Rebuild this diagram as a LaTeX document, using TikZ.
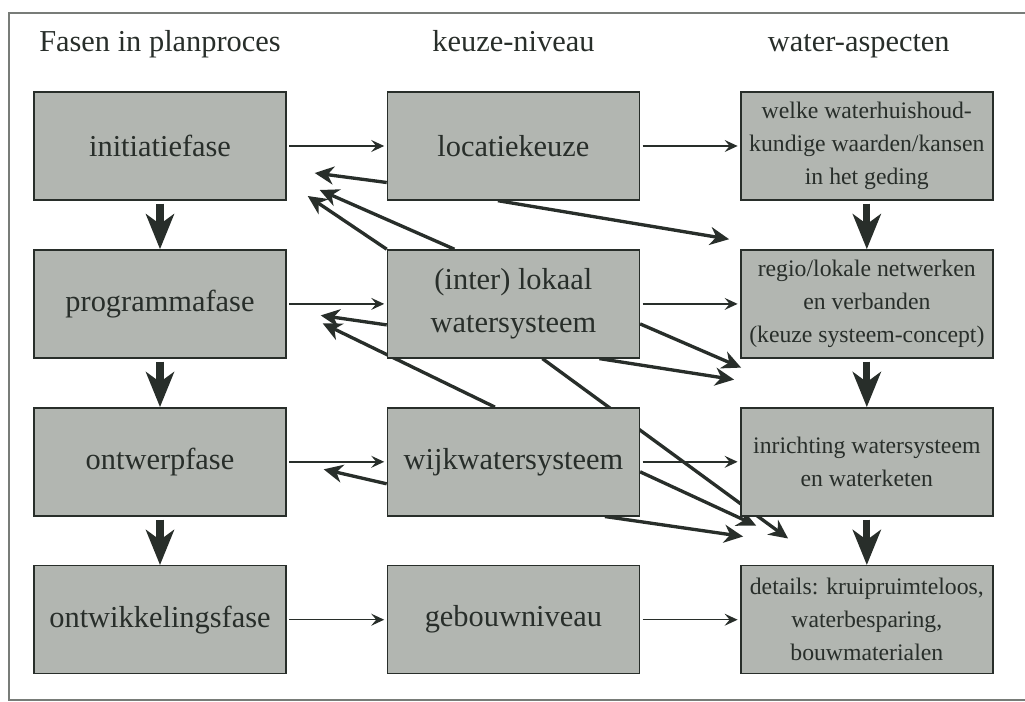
\documentclass[tikz,border=0pt]{standalone}
\usepackage{fontspec}
\setmainfont{Liberation Serif}
\usetikzlibrary{positioning, arrows.meta, calc, backgrounds}
\definecolor{boxgray}{RGB}{178,182,177}
\definecolor{inkdark}{RGB}{40,46,42}
\definecolor{framegray}{RGB}{120,124,120}

\begin{document}
\begin{tikzpicture}[
  node distance=0.97cm and 2.0cm,
  box/.style={draw=inkdark, line width=0.8pt, fill=boxgray, minimum width=5.04cm, minimum height=2.16cm,
              inner sep=0pt, align=center, text=inkdark, font=\fontsize{17.3}{24.5}\selectfont},
  aspectbox/.style={box, font=\fontsize{13.5}{18.8}\selectfont},
  header/.style={text=inkdark, font=\fontsize{17.3}{20}\selectfont},
  flow/.style={-{Stealth[length=0.26cm, width=0.24cm, inset=0.1cm]}, line width=0.8pt, inkdark,
               shorten <=0.05cm, shorten >=0.05cm},
  feedback/.style={-{Stealth[length=0.38cm, width=0.36cm, inset=0.12cm]}, line width=1.9pt, inkdark},
  bigdown/.style={-{Stealth[length=0.7cm, width=0.56cm, inset=0.2cm]}, line width=4pt, inkdark,
                  shorten <=0.06cm}
]
  \useasboundingbox (0,0) rectangle (20.5,-14.04);
  \draw[framegray, line width=0.8pt] (20.5,-0.26) -- (0.18,-0.26) -- (0.18,-14.0) -- (20.5,-14.0);

  \node[box] (init) at (3.2,-2.92) {initiatiefase};
  \node[box, below=of init] (prog) {programmafase};
  \node[box, below=of prog] (ontw) {ontwerpfase};
  \node[box, below=of ontw] (ontwik) {ontwikkelingsfase};
  \node[box, right=of init] (loc) {locatiekeuze};
  \node[box, right=of prog] (lok) {(inter) lokaal\\watersysteem};
  \node[box, right=of ontw] (wijk) {wijkwatersysteem};
  \node[box, right=of ontwik] (gebouw) {gebouwniveau};
  \node[aspectbox, right=of loc] (waarden) {welke waterhuishoud-\\kundige waarden/kansen\\in het geding};
  \node[aspectbox, right=of lok] (netwerk) {regio/lokale netwerken\\en verbanden\\(keuze systeem-concept)};
  \node[aspectbox, right=of wijk] (inricht) {inrichting watersysteem\\en waterketen};
  \node[aspectbox, right=of gebouw] (details) {details: kruipruimteloos,\\waterbesparing,\\bouwmaterialen};

  \node[header, above=0.8cm of init, anchor=base] (fasen) {Fasen in planproces};
  \node[header, above=0.8cm of loc, anchor=base] (keuze) {keuze-niveau};
  \node[header, above=0.8cm of waarden, anchor=base, xshift=-0.16cm] (aspecten) {water-aspecten};

  \draw[flow] (init) -- (loc);
  \draw[flow] (loc) -- (waarden);
  \draw[flow] (prog) -- (lok);
  \draw[flow] (lok) -- (netwerk);
  \draw[flow] (ontw) -- (wijk);
  \draw[flow] (wijk) -- (inricht);
  \draw[flow] (ontwik) -- (gebouw);
  \draw[flow] (gebouw) -- (details);

  \draw[bigdown] (init) -- (prog);
  \draw[bigdown] (prog) -- (ontw);
  \draw[bigdown] (ontw) -- (ontwik);
  \draw[bigdown] (waarden) -- (netwerk);
  \draw[bigdown] (netwerk) -- (inricht);
  \draw[bigdown] (inricht) -- (details);

  \coordinate (backInitA) at ($(init.east)+(0.56,-0.54)$);
  \coordinate (backInitB) at ($(init.east)+(0.42,-1.0)$);
  \coordinate (backInitC) at ($(init.east)+(0.66,-0.88)$);
  \coordinate (backProgA) at ($(prog.east)+(0.68,-0.23)$);
  \coordinate (backProgB) at ($(prog.east)+(0.72,-0.39)$);
  \coordinate (backOntw) at ($(ontw.east)+(0.74,-0.15)$);
  \coordinate (toNetA) at ($(netwerk.north west)+(-0.22,0.2)$);
  \coordinate (toNetB) at ($(netwerk.south west)+(0.02,-0.18)$);
  \coordinate (toNetC) at ($(netwerk.south west)+(-0.12,-0.42)$);
  \coordinate (toInrA) at ($(inricht.south west)+(0.32,-0.18)$);
  \coordinate (toInrB) at ($(inricht.south west)+(0.06,-0.4)$);
  \coordinate (toInrC) at ($(inricht.south west)+(0.96,-0.44)$);

  \begin{scope}[on background layer]
    \draw[feedback] ([yshift=-0.73cm]loc.west) -- (backInitA);
    \draw[feedback] (lok.north west) -- (backInitB);
    \draw[feedback] ([xshift=-1.18cm]lok.north) -- (backInitC);
    \draw[feedback] ([xshift=-0.31cm]loc.south) -- (toNetA);
    \draw[feedback] ([yshift=-0.42cm]lok.west) -- (backProgA);
    \draw[feedback] ([xshift=-0.37cm]wijk.north) -- (backProgB);
    \draw[feedback] ([yshift=-0.4cm]lok.east) -- (toNetB);
    \draw[feedback] ([xshift=1.72cm]lok.south) -- (toNetC);
    \draw[feedback] ([xshift=0.58cm]lok.south) -- (toInrC);
    \draw[feedback] ([yshift=-0.2cm]wijk.east) -- (toInrA);
    \draw[feedback] ([xshift=1.83cm]wijk.south) -- (toInrB);
    \draw[feedback] ([yshift=-0.44cm]wijk.west) -- (backOntw);
  \end{scope}
\end{tikzpicture}
\end{document}
